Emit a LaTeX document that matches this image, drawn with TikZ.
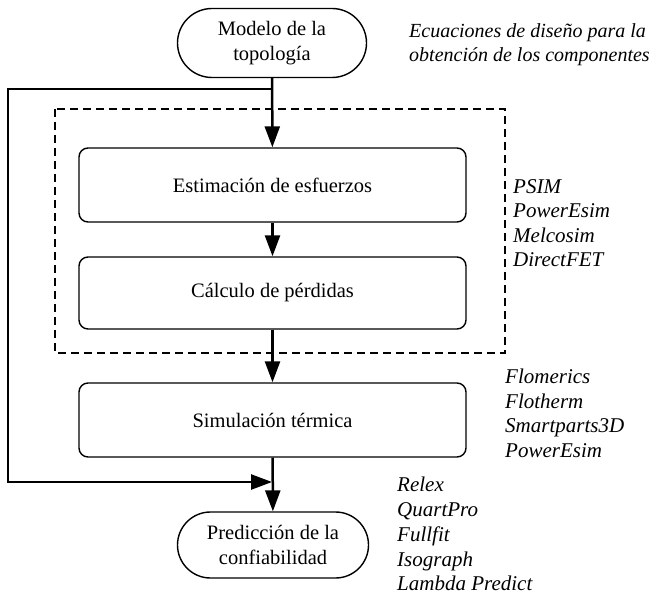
\documentclass[tikz,border=0pt]{standalone}
\usepackage{fontspec}
\setmainfont{Liberation Serif}
\usepackage{tikz}
\usetikzlibrary{arrows.meta,positioning,shapes.misc}
\tikzset{
  term/.style={rounded rectangle, draw=black, line width=1.4pt, align=center,
               minimum width=193pt, minimum height=69pt, inner sep=2pt,
               font=\fontsize{20.5}{25}\selectfont},
  proc/.style={rounded corners=9pt, draw=black, line width=1.4pt, align=center,
               minimum width=387pt, inner sep=2pt, font=\fontsize{20.5}{25}\selectfont},
  tools/.style={anchor=north west, align=left, inner sep=0pt,
                font=\fontsize{21}{24.6}\selectfont\itshape},
  flow/.style={-{Triangle[length=21pt,width=15pt]}, line width=2.5pt, draw=black},
}
\begin{document}
\begin{tikzpicture}[x=1pt, y=-1pt,
    grp/.style={dashed, dash pattern=on 8pt off 5pt, line width=1.3pt, draw=black}]
  \useasboundingbox (0,0) rectangle (660,596);
  % flow blocks
  \node[term] (top) at (272,43) {Modelo de la\\topología};
  \node[proc, minimum height=74pt] (est) at (272.5,185) {Estimación de esfuerzos};
  \node[proc, minimum height=72pt] (calc) at (272.5,293) {Cálculo de pérdidas};
  \node[proc, minimum height=74pt] (sim) at (272.5,420) {Simulación térmica};
  \node[term, minimum height=66pt, minimum width=195pt] (pred) at (273,545) {Predicción de la\\confiabilidad};
  % grouping
  \draw[grp] (55,109) rectangle (505,353);
  % connectors
  \coordinate (j1) at (272,89);
  \coordinate (j2) at (272,482);
  \draw[flow] (top)--(est);
  \draw[flow] (est)--(calc);
  \draw[flow] (calc)--(sim);
  \draw[flow] (sim)--(pred);
  \draw[flow] (j1) -- ++(-264,0) |- (j2);
  % tools per stage
  \node[tools, font=\fontsize{20}{24}\selectfont\itshape] (eqs) at (409,23) {Ecuaciones de diseño para la\\obtención de los componentes};
  \node[tools] (tsim) at (513,179) {PSIM\\PowerEsim\\Melcosim\\DirectFET};
  \node[tools] (tterm) at (505,369) {Flomerics\\Flotherm\\Smartparts3D\\PowerEsim};
  \node[tools, font=\fontsize{21}{24.8}\selectfont\itshape] (trel) at (397,477) {Relex\\QuartPro\\Fullfit\\Isograph\\Lambda Predict};
\end{tikzpicture}
\end{document}
